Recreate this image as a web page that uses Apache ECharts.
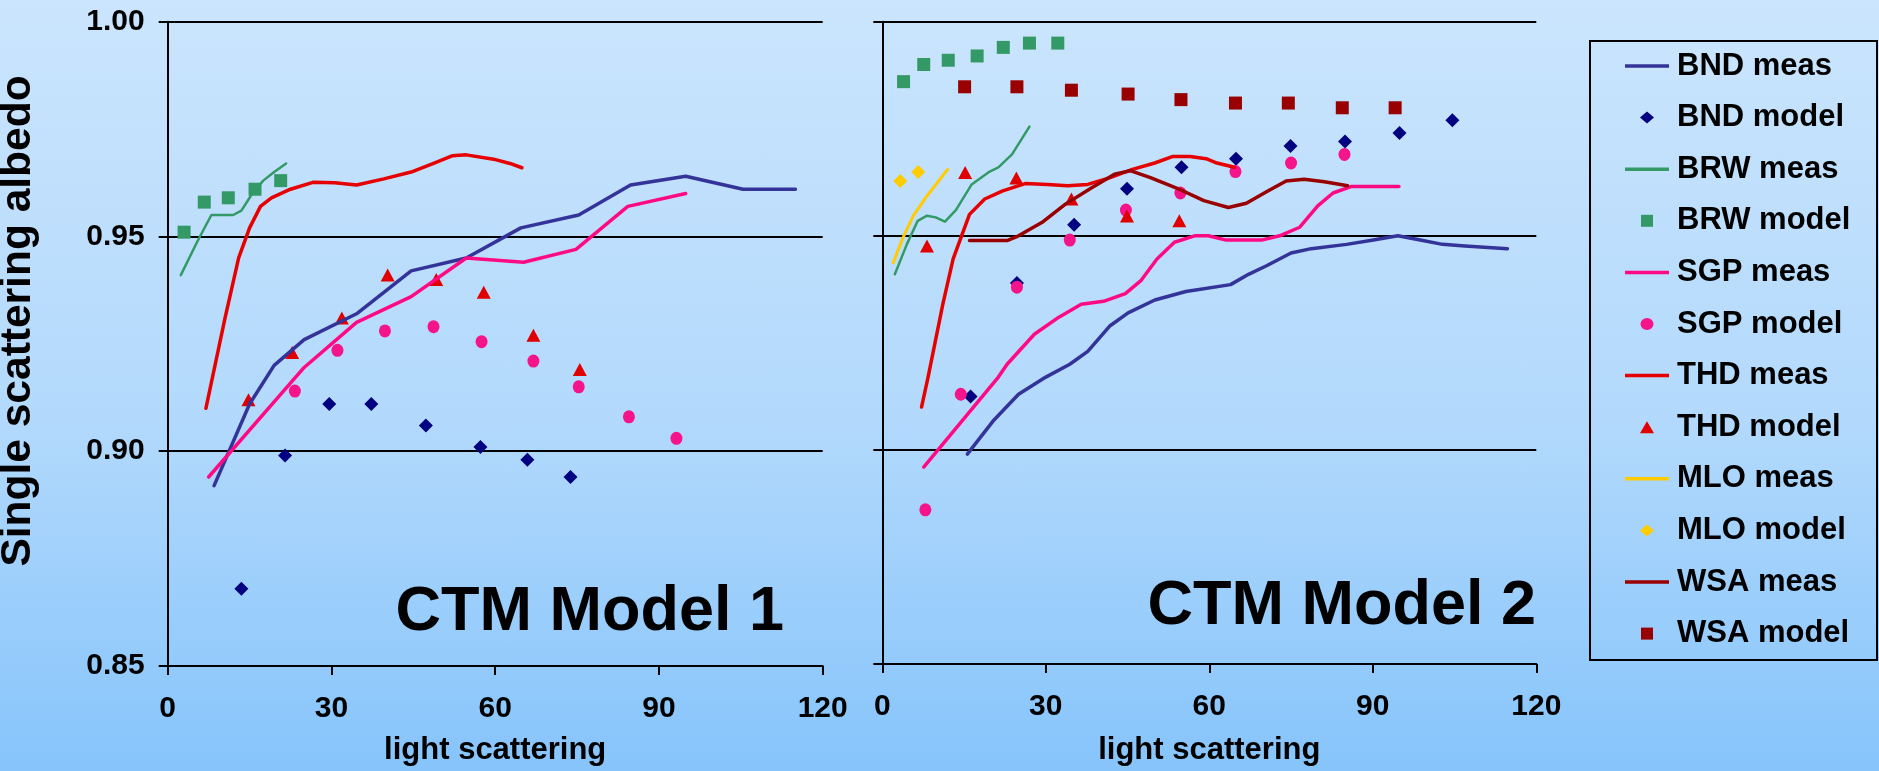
<!DOCTYPE html>
<html>
<head>
<meta charset="utf-8">
<title>Single scattering albedo vs light scattering</title>
<script src="https://cdn.jsdelivr.net/npm/echarts@6/dist/echarts.min.js"></script>
<style>
    html, body { margin: 0; padding: 0; }
    #chart {
        width: 1879px;
        height: 771px;
        background: linear-gradient(to bottom, #cbe5fd 0%, #b2d9fc 55%, #86c4fb 100%);
    }
</style>
</head>
<body>
<div id="chart"></div>
<script>
// points are [light scattering, single scattering albedo]

// CTM Model 1 (left panel)
const bndMeas1 = [[8.5, 0.892], [15, 0.911], [19.5, 0.920], [25, 0.926], [34.6, 0.932], [44.6, 0.942], [54.7, 0.945],
    [64.7, 0.952], [75.3, 0.955], [84.8, 0.962], [94.9, 0.964], [105.4, 0.961], [115, 0.961]];
const bndModel1 = [[13.5, 0.868], [21.5, 0.899], [29.6, 0.911], [37.3, 0.911], [47.3, 0.906], [57.3, 0.901], [65.9, 0.898], [73.8, 0.894]];
const brwMeas1 = [[2.4, 0.941], [5.5, 0.949], [8, 0.955], [12, 0.955], [13.5, 0.956], [15.5, 0.960], [17.5, 0.963], [19.5, 0.965], [21.7, 0.967]];
const brwModel1 = [[3, 0.951], [6.7, 0.958], [11.1, 0.959], [16, 0.961], [20.7, 0.963]];
const sgpMeas1 = [[7.5, 0.894], [25, 0.9195], [34.6, 0.930], [44.6, 0.936], [54.7, 0.945], [65.2, 0.944], [74.8, 0.947], [84.3, 0.957], [94.9, 0.960]];
const sgpModel1 = [[23.3, 0.914], [31.1, 0.9235], [39.8, 0.928], [48.7, 0.929], [57.5, 0.9255], [67, 0.921], [75.3, 0.915], [84.5, 0.908], [93.2, 0.903]];
const thdMeas1 = [[7, 0.910], [10.5, 0.931], [13, 0.945], [15, 0.952], [17, 0.957], [19, 0.959], [22.5, 0.961], [26.6, 0.9626],
    [30.6, 0.9625], [34.6, 0.962], [39.6, 0.9634], [44.6, 0.965], [48.7, 0.967], [52.2, 0.9688], [54.7, 0.969], [59.7, 0.968], [62.7, 0.967], [64.9, 0.966]];
const thdModel1 = [[14.8, 0.912], [22.8, 0.923], [31.9, 0.931], [40.3, 0.941], [49.2, 0.940], [57.9, 0.937], [67, 0.927], [75.5, 0.919]];

// CTM Model 2 (right panel)
const bndMeas2 = [[15.6, 0.899], [20.5, 0.907], [25, 0.913], [30, 0.917], [34.4, 0.920], [37.7, 0.923], [41.8, 0.929], [45.1, 0.932],
    [50, 0.935], [55.7, 0.937], [63.9, 0.9386], [67.2, 0.941], [70.5, 0.943], [75, 0.946], [78.7, 0.947], [85.2, 0.948],
    [90.1, 0.949], [94.6, 0.950], [98.7, 0.949], [102.8, 0.948], [106.9, 0.9476], [114.7, 0.947]];
const bndModel2 = [[16.2, 0.9125], [24.7, 0.939], [35.2, 0.9526], [44.9, 0.961], [54.9, 0.966], [64.9, 0.968], [74.9, 0.971], [84.9, 0.972], [94.9, 0.974], [104.6, 0.977]];
const brwMeas2 = [[2.3, 0.941], [4.5, 0.948], [6.5, 0.9535], [8.2, 0.9547], [9.8, 0.9543], [11.5, 0.9533], [13.5, 0.956], [16.4, 0.962],
    [19.7, 0.965], [21.3, 0.966], [23.8, 0.969], [27, 0.9755]];
const brwModel2 = [[3.9, 0.986], [7.6, 0.990], [12.1, 0.991], [17.4, 0.992], [22.2, 0.994], [27, 0.995], [32.2, 0.995]];
const sgpMeas2 = [[7.6, 0.896], [21.3, 0.917], [22.9, 0.920], [27.9, 0.927], [32.4, 0.931], [36.5, 0.934], [40.6, 0.9347], [44.6, 0.9365],
    [47.5, 0.9396], [50.4, 0.9446], [53.6, 0.9485], [57.3, 0.950], [59.8, 0.950], [63.1, 0.949], [69.6, 0.949], [72.9, 0.950],
    [76.6, 0.952], [79.9, 0.957], [82.7, 0.960], [86, 0.9615], [94.8, 0.9615]];
const sgpModel2 = [[7.9, 0.886], [14.4, 0.913], [24.7, 0.938], [34.4, 0.949], [44.7, 0.956], [54.7, 0.960], [64.8, 0.965], [75, 0.967], [84.8, 0.969]];
const thdMeas2 = [[7.2, 0.910], [8.4, 0.917], [11.1, 0.934], [13, 0.9446], [16, 0.955], [18.8, 0.9586], [22.1, 0.9605], [26.2, 0.9622],
    [30.3, 0.962], [34, 0.9617], [37.7, 0.962], [41.8, 0.9636], [45.9, 0.9655], [50, 0.967], [53.2, 0.9685], [56.5, 0.9685],
    [59.4, 0.968], [61.4, 0.967], [64.6, 0.966]];
const thdModel2 = [[8.2, 0.9476], [15.2, 0.9648], [24.6, 0.9635], [34.7, 0.9586], [44.9, 0.9546], [54.5, 0.9535]];
const mloMeas2 = [[2, 0.9437], [3.7, 0.9493], [5.7, 0.9547], [8.2, 0.9593], [12, 0.9655]];
const mloModel2 = [[3.3, 0.9628], [6.6, 0.9649]];
const wsaMeas2 = [[16, 0.9489], [22.9, 0.9489], [25, 0.950], [29.5, 0.9533], [33.6, 0.9574], [38.5, 0.9613], [42.6, 0.9644], [45.5, 0.9652],
    [49.2, 0.9636], [54.1, 0.9611], [59, 0.9582], [63.5, 0.9566], [66.8, 0.9576], [70.5, 0.9603], [74.1, 0.9628], [77.4, 0.9632],
    [81.1, 0.9626], [85.4, 0.9617]];
const wsaModel2 = [[15.1, 0.9848], [24.7, 0.9848], [34.7, 0.984], [45.1, 0.9831], [54.8, 0.9818], [64.8, 0.981], [74.5, 0.981], [84.4, 0.9799], [94.1, 0.9799]];

const xTicks = [0, 30, 60, 90, 120];
const yTicks = [0.85, 0.90, 0.95, 1.00];
const legendNames = ['BND meas', 'BND model', 'BRW meas', 'BRW model', 'SGP meas', 'SGP model',
    'THD meas', 'THD model', 'MLO meas', 'MLO model', 'WSA meas', 'WSA model'];

const FONT = "'Liberation Sans', Arial, sans-serif";

// legend icons (path icons keep their aspect)
const ICON_LINE = 'path://M0,0H44V3.5H0Z';
const ICON_DIAMOND = 'path://M7,0L14,6L7,12L0,6Z';
const ICON_SQUARE = 'path://M0,0H12V12H0Z';
const ICON_CIRCLE = 'path://M0,6A6.5,6,0,1,0,13,6A6.5,6,0,1,0,0,6Z';
const ICON_TRIANGLE = 'path://M7,0L14,12L0,12Z';
const legendIcons = [ICON_LINE, ICON_DIAMOND, ICON_LINE, ICON_SQUARE, ICON_LINE, ICON_CIRCLE,
    ICON_LINE, ICON_TRIANGLE, ICON_LINE, ICON_DIAMOND, ICON_LINE, ICON_SQUARE];

function lineSeries(name, data, color, width, idx) {
    return {
        name: name,
        type: 'line',
        xAxisIndex: idx,
        yAxisIndex: idx,
        data: data,
        symbol: 'none',
        itemStyle: {color: color},
        lineStyle: {color: color, width: width, join: 'round', cap: 'round'},
        emphasis: {disabled: true}
    };
}

function dotSeries(name, data, color, symbol, size, idx) {
    return {
        name: name,
        type: 'scatter',
        xAxisIndex: idx,
        yAxisIndex: idx,
        data: data,
        symbol: symbol,
        symbolSize: size,
        itemStyle: {color: color, opacity: 1},
        emphasis: {disabled: true}
    };
}

function xAxisFor(idx) {
    return {
        type: 'value',
        gridIndex: idx,
        min: xTicks[0],
        max: xTicks[xTicks.length - 1],
        interval: 30,
        name: 'light scattering',
        nameLocation: 'middle',
        nameGap: idx ? 71 : 69,
        nameTextStyle: {color: '#000', fontFamily: FONT, fontWeight: 'bold', fontSize: 31},
        axisLine: {lineStyle: {color: '#000', width: 2}},
        axisTick: {show: true, inside: false, length: 9, lineStyle: {color: '#000', width: 2}},
        axisLabel: {color: '#000', fontFamily: FONT, fontWeight: 'bold', fontSize: 30, margin: 28},
        splitLine: {show: false}
    };
}

function yAxisFor(idx) {
    return {
        type: 'value',
        gridIndex: idx,
        min: yTicks[0],
        max: yTicks[yTicks.length - 1],
        interval: 0.05,
        axisLine: {show: true, lineStyle: {color: '#000', width: 2}},
        axisTick: {show: true, inside: false, length: 9, lineStyle: {color: '#000', width: 2}},
        axisLabel: {
            show: idx === 0,
            color: '#000', fontFamily: FONT, fontWeight: 'bold', fontSize: 30, margin: 23,
            formatter: function (v) { return v.toFixed(2); }
        },
        splitLine: {show: true, lineStyle: {color: '#000', width: 2}}
    };
}

let chart = echarts.init(document.getElementById('chart'), null, {renderer: 'canvas'});

chart.setOption({
    backgroundColor: 'transparent',
    animation: false,
    textStyle: {fontFamily: FONT},
    grid: [
        {left: 167.7, top: 21.7, width: 655, height: 645.6},
        {left: 882.3, top: 21.7, width: 654, height: 645.6}
    ],
    xAxis: [xAxisFor(0), xAxisFor(1)],
    yAxis: [yAxisFor(0), yAxisFor(1)],
    legend: {
        orient: 'vertical',
        left: 1625,
        top: 50.5,
        padding: 0,
        itemWidth: 44,
        itemHeight: 12,
        itemGap: 20.6,
        selectedMode: false,
        textStyle: {color: '#000', fontFamily: FONT, fontWeight: 'bold', fontSize: 31, padding: [0, 0, 0, 3]},
        data: legendNames.map(function (n, i) { return {name: n, icon: legendIcons[i]}; })
    },
    graphic: [
        {   // y axis title
            type: 'text',
            x: 18,
            y: 321,
            rotation: Math.PI / 2,
            style: {
                text: 'Single scattering albedo',
                fill: '#000',
                font: 'bold 42.5px ' + FONT,
                textAlign: 'center', textVerticalAlign: 'middle',
                align: 'center', verticalAlign: 'middle'
            }
        },
        {
            type: 'text',
            x: 784,
            y: 613,
            style: {
                text: 'CTM Model 1',
                fill: '#000',
                font: 'bold 63px ' + FONT,
                textAlign: 'right', textVerticalAlign: 'middle',
                align: 'right', verticalAlign: 'middle'
            }
        },
        {
            type: 'text',
            x: 1536,
            y: 607,
            style: {
                text: 'CTM Model 2',
                fill: '#000',
                font: 'bold 63px ' + FONT,
                textAlign: 'right', textVerticalAlign: 'middle',
                align: 'right', verticalAlign: 'middle'
            }
        },
        {   // legend frame
            type: 'rect',
            shape: {x: 1590, y: 41, width: 287, height: 619},
            style: {fill: 'none', stroke: '#000', lineWidth: 2},
            z: 10
        }
    ],
    series: [
        // left panel
        lineSeries('BND meas', bndMeas1, '#333399', 3.5, 0),
        dotSeries('BND model', bndModel1, '#000080', 'diamond', [14, 14], 0),
        lineSeries('BRW meas', brwMeas1, '#339966', 2.5, 0),
        dotSeries('BRW model', brwModel1, '#339966', 'rect', [13, 13], 0),
        lineSeries('SGP meas', sgpMeas1, '#ff0a84', 3.5, 0),
        dotSeries('SGP model', sgpModel1, '#f5148a', 'circle', [12, 13], 0),
        lineSeries('THD meas', thdMeas1, '#e60000', 3.5, 0),
        dotSeries('THD model', thdModel1, '#e00000', 'triangle', [14, 13], 0),
        // right panel
        lineSeries('BND meas', bndMeas2, '#333399', 3.5, 1),
        dotSeries('BND model', bndModel2, '#000080', 'diamond', [14, 14], 1),
        lineSeries('BRW meas', brwMeas2, '#339966', 2.5, 1),
        dotSeries('BRW model', brwModel2, '#339966', 'rect', [13, 13], 1),
        lineSeries('SGP meas', sgpMeas2, '#ff0a84', 3.5, 1),
        dotSeries('SGP model', sgpModel2, '#f5148a', 'circle', [12, 13], 1),
        lineSeries('THD meas', thdMeas2, '#e60000', 3.5, 1),
        dotSeries('THD model', thdModel2, '#e00000', 'triangle', [14, 13], 1),
        lineSeries('MLO meas', mloMeas2, '#ffcc00', 3, 1),
        dotSeries('MLO model', mloModel2, '#ffcc00', 'diamond', [14, 14], 1),
        lineSeries('WSA meas', wsaMeas2, '#990000', 3.5, 1),
        dotSeries('WSA model', wsaModel2, '#990000', 'rect', [13, 13], 1)
    ]
});
</script>
</body>
</html>
